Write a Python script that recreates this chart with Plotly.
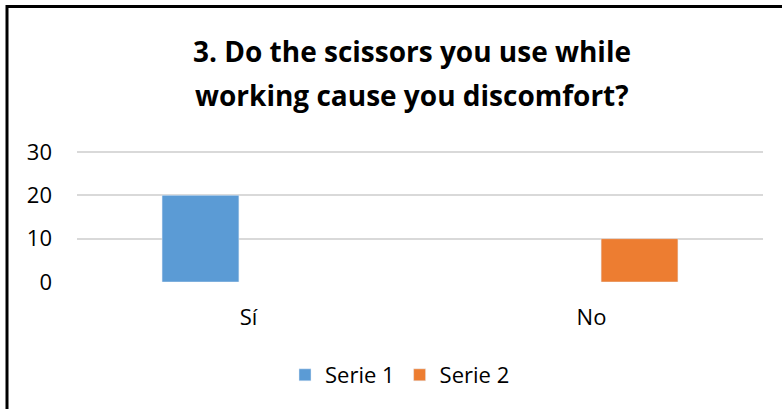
import plotly.graph_objects as go

categories = ["Sí", "No"]
serie1 = [20, None]
serie2 = [None, 10]
series_names = ["Serie 1", "Serie 2"]
title_lines = ["3. Do the scissors you use while", "working cause you discomfort?"]
y_ticks = [0, 10, 20, 30]
y_max = 30

W, H = 782, 409
L, R, T, B = 77, 19, 148, 127
pw = W - L - R
ph = H - T - B
# 30 should sit at y=152 px, 0 at y=282 px
y_top = y_max * ph / 130.0

def px_x(px):
    return (px - L) / pw

def px_y(py):
    return (H - B - py) / ph

font_family = "Open Sans"

fig = go.Figure()
fig.add_trace(go.Bar(x=categories, y=serie1, name=series_names[0], marker_color="#5B9BD5"))
fig.add_trace(go.Bar(x=categories, y=serie2, name=series_names[1], marker_color="#ED7D31"))

fig.update_layout(
    width=W, height=H,
    margin=dict(l=L, r=R, t=T, b=B, pad=0),
    paper_bgcolor="white", plot_bgcolor="white",
    barmode="group", bargap=0.44, bargroupgap=0.2,
    font=dict(family=font_family, size=22, color="black"),
    legend=dict(orientation="h", x=px_x(400), xanchor="center", y=px_y(375), yanchor="middle",
                font=dict(size=22, color="black"), itemwidth=30, bgcolor="rgba(0,0,0,0)"),
    showlegend=True,
)
for line, cy in zip(title_lines, [51, 95]):
    fig.add_annotation(text=line, xref="paper", yref="paper", x=px_x(412), y=px_y(cy),
                       xanchor="center", yanchor="middle", showarrow=False,
                       font=dict(family=font_family, size=28, color="black", weight="bold"))

fig.update_yaxes(range=[0, y_top], tickvals=y_ticks, showgrid=True, gridcolor="#D9D9D9", gridwidth=1.5,
                 zeroline=False, showline=False, ticks="", ticklabelstandoff=24,
                 tickfont=dict(size=22, color="black"))
fig.update_xaxes(showgrid=False, showline=False, ticks="", ticklabelstandoff=20,
                 tickfont=dict(size=22, color="black"))

fig.add_shape(type="rect", xref="paper", yref="paper",
              x0=px_x(7), x1=px_x(900), y0=px_y(600), y1=px_y(6.5),
              line=dict(color="black", width=3), fillcolor="rgba(0,0,0,0)", layer="above")

fig.write_html("out.html", config={"displayModeBar": False},
               post_script="document.body.style.margin='0';document.body.style.padding='0';")
